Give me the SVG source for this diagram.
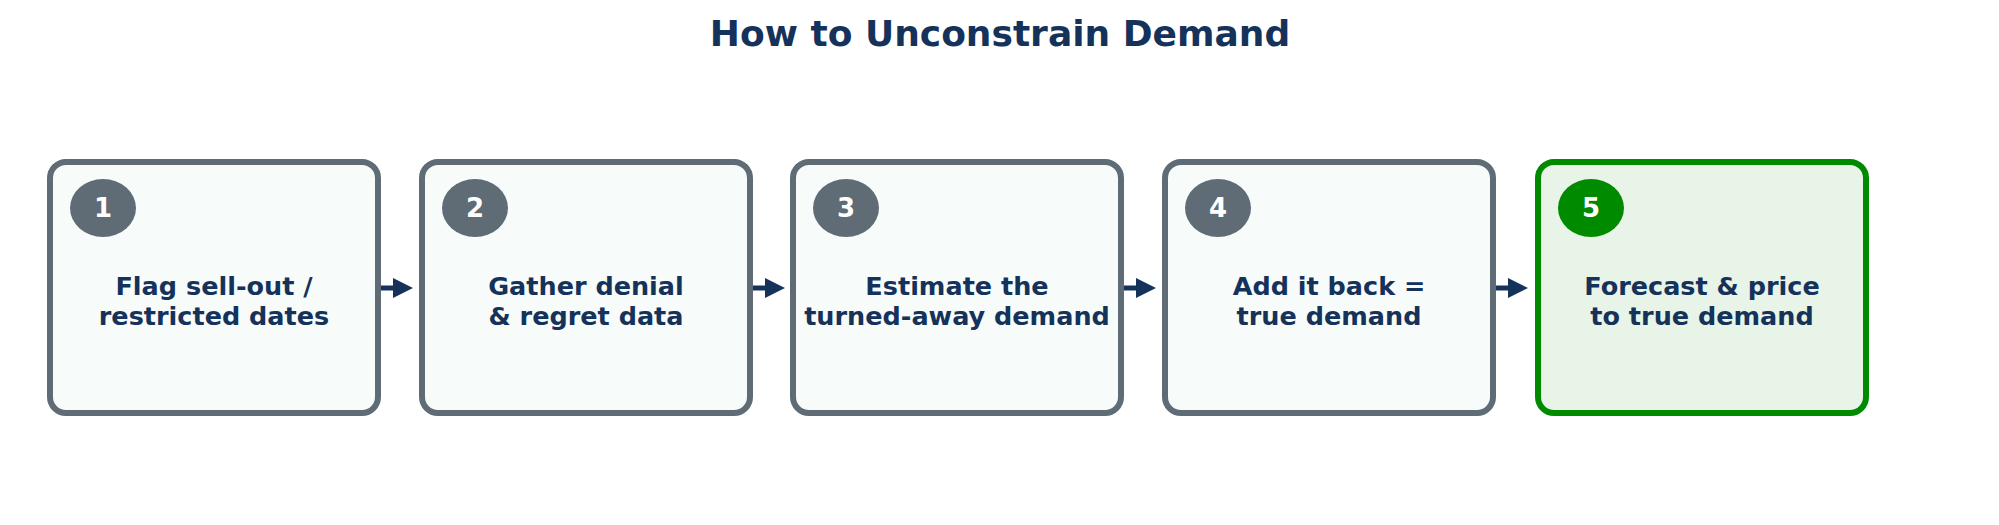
<svg xmlns="http://www.w3.org/2000/svg" width="1999" height="525" viewBox="0 0 1999 525">
<style>
text{font-family:"DejaVu Sans",sans-serif;font-weight:bold;text-anchor:middle}
.box{fill:#f7fbfa;stroke:#5f6b75;stroke-width:6}
.badge{fill:#5f6b75}
.lbl{fill:#14325a;font-size:25.5px}
.num{fill:#fff;font-size:26px}
.conn{stroke:#14325a;stroke-width:5;fill:none;marker-end:url(#ah)}
</style>
<defs><marker id="ah" markerWidth="4" markerHeight="4" refX="2" refY="2" orient="auto" markerUnits="strokeWidth"><path d="M0,0 L4,2 L0,4 Z" fill="#14325a"/></marker></defs>
<rect width="1999" height="525" fill="#fff"/>
<text x="1000" y="46" style="font-size:36px;fill:#14325a">How to Unconstrain Demand</text>
<g id="connectors">
<path class="conn" d="M381,288 H403"/>
<path class="conn" d="M753,288 H775"/>
<path class="conn" d="M1124,288 H1146"/>
<path class="conn" d="M1496,288 H1518"/>
</g>
<g id="n1"><rect class="box" x="50" y="162" width="328" height="251" rx="16"/><ellipse class="badge" cx="103" cy="208" rx="33" ry="29"/><text class="num" x="103" y="217">1</text><text class="lbl" x="214" y="295">Flag sell-out /</text><text class="lbl" x="214" y="325">restricted dates</text></g>
<g id="n2"><rect class="box" x="422" y="162" width="328" height="251" rx="16"/><ellipse class="badge" cx="475" cy="208" rx="33" ry="29"/><text class="num" x="475" y="217">2</text><text class="lbl" x="586" y="295">Gather denial</text><text class="lbl" x="586" y="325">&amp; regret data</text></g>
<g id="n3"><rect class="box" x="793" y="162" width="328" height="251" rx="16"/><ellipse class="badge" cx="846" cy="208" rx="33" ry="29"/><text class="num" x="846" y="217">3</text><text class="lbl" x="957" y="295">Estimate the</text><text class="lbl" x="957" y="325">turned-away demand</text></g>
<g id="n4"><rect class="box" x="1165" y="162" width="328" height="251" rx="16"/><ellipse class="badge" cx="1218" cy="208" rx="33" ry="29"/><text class="num" x="1218" y="217">4</text><text class="lbl" x="1329" y="295">Add it back =</text><text class="lbl" x="1329" y="325">true demand</text></g>
<g id="n5"><rect class="box" x="1538" y="162" width="328" height="251" rx="16" style="fill:#e8f4e8;stroke:#008a00"/><ellipse cx="1591" cy="208" rx="33" ry="29" fill="#008a00"/><text class="num" x="1591" y="217">5</text><text class="lbl" x="1702" y="295">Forecast &amp; price</text><text class="lbl" x="1702" y="325">to true demand</text></g>
</svg>
